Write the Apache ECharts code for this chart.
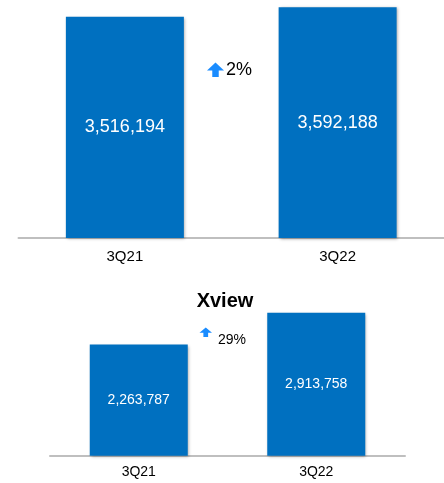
<!DOCTYPE html>
<html>
<head>
<meta charset="utf-8">
<script src="https://cdn.jsdelivr.net/npm/echarts@6/dist/echarts.min.js"></script>
<style>
html,body{margin:0;padding:0;background:#fff;}
#c{width:444px;height:483px;}
</style>
</head>
<body>
<div id="c"></div>
<script>
const categories = ['3Q21', '3Q22'];
const totalValues = [3516194, 3592188];
const xviewValues = [2263787, 2913758];
const totalChange = '2%';
const xviewChange = '29%';
const xviewTitle = 'Xview';

const FONT = '"Liberation Sans", Arial, sans-serif';
const BAR = '#0070C0';
const ARROW = '#1a8cff';

function fmt(p) { return Number(p.value).toLocaleString('en-US'); }

function arrow(x, y, w, h) {
  const hw = w / 2, sw = w * 0.19, hh = h * 0.55;
  return {
    type: 'polygon',
    shape: { points: [
      [x + hw, y], [x + w, y + hh], [x + hw + sw, y + hh], [x + hw + sw, y + h],
      [x + hw - sw, y + h], [x + hw - sw, y + hh], [x, y + hh]
    ] },
    style: { fill: ARROW }
  };
}

const chart = echarts.init(document.getElementById('c'));
chart.setOption({
  animation: false,
  textStyle: { fontFamily: FONT },
  title: {
    text: xviewTitle, left: 220, top: 286, textAlign: 'center',
    textStyle: { fontFamily: FONT, fontSize: 20, fontWeight: 'bold', color: '#000' }
  },
  grid: [
    { left: 18.5, width: 426, top: 0, height: 238 },
    { left: 50, width: 355, top: 308.5, height: 147.2 }
  ],
  xAxis: [
    { type: 'category', gridIndex: 0, data: categories,
      axisLine: { lineStyle: { color: '#BFBFBF', width: 2 } }, axisTick: { show: false },
      axisLabel: { color: '#000', fontSize: 15, margin: 11, fontFamily: FONT } },
    { type: 'category', gridIndex: 1, data: categories,
      axisLine: { lineStyle: { color: '#BFBFBF', width: 2 } }, axisTick: { show: false },
      axisLabel: { color: '#000', fontSize: 14, margin: 9, fontFamily: FONT } }
  ],
  yAxis: [
    { type: 'value', gridIndex: 0, min: 1750000, max: 3650000, show: false, splitLine: { show: false } },
    { type: 'value', gridIndex: 1, min: 0, max: 3000000, show: false, splitLine: { show: false } }
  ],
  series: [
    { type: 'bar', xAxisIndex: 0, yAxisIndex: 0, data: totalValues, barWidth: 118,
      itemStyle: { color: BAR, shadowColor: 'rgba(0,0,0,0.35)', shadowBlur: 3, shadowOffsetX: 1, shadowOffsetY: 1 },
      label: { show: true, position: 'inside', color: '#fff', fontSize: 18, fontFamily: FONT, formatter: fmt } },
    { type: 'bar', xAxisIndex: 1, yAxisIndex: 1, data: xviewValues, barWidth: 98,
      itemStyle: { color: BAR, shadowColor: 'rgba(0,0,0,0.35)', shadowBlur: 3, shadowOffsetX: 1, shadowOffsetY: 1 },
      label: { show: true, position: 'inside', color: '#fff', fontSize: 14, fontFamily: FONT, formatter: fmt } }
  ],
  graphic: [
    arrow(207, 62.5, 17, 14.5),
    { type: 'text', left: 226, top: 61, style: { text: totalChange, fontSize: 18, fontFamily: FONT, fill: '#000' } },
    arrow(199.5, 327.5, 12.5, 9.5),
    { type: 'text', left: 218, top: 333, style: { text: xviewChange, fontSize: 14, fontFamily: FONT, fill: '#000' } }
  ]
});
</script>
</body>
</html>
